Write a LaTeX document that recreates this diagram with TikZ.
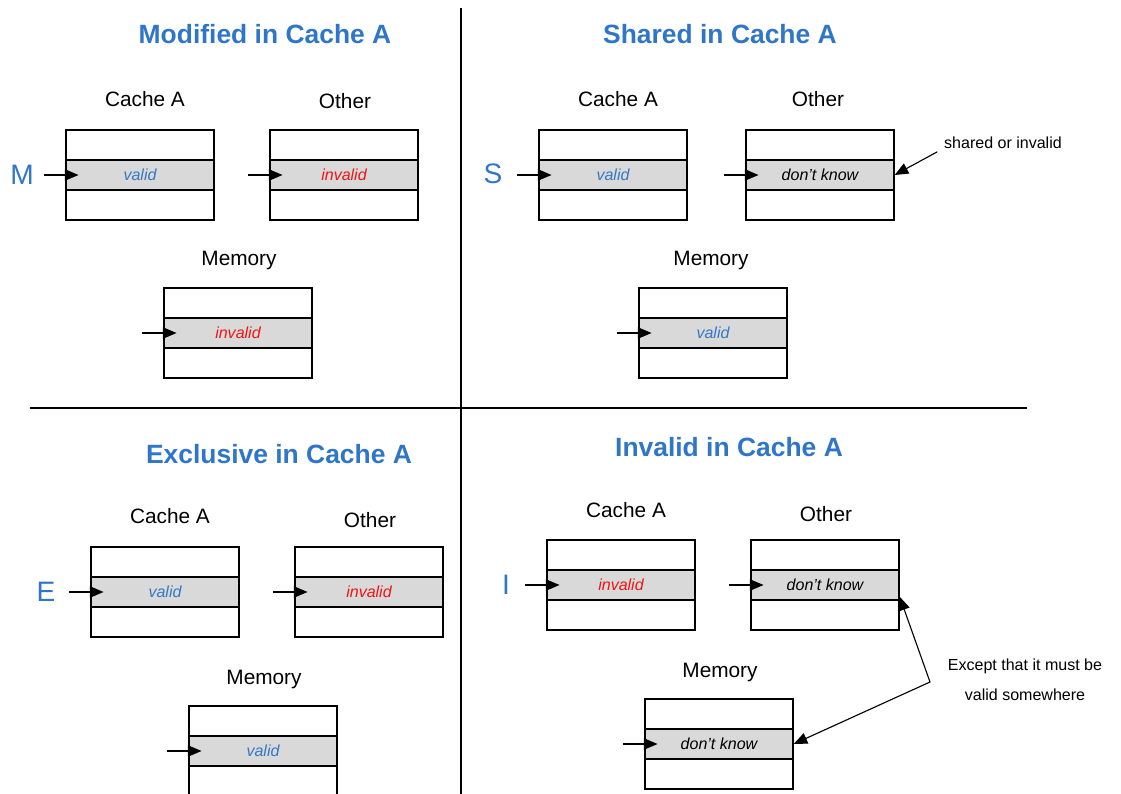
\documentclass[tikz,border=0pt]{standalone}
\usepackage{fontspec}
\setmainfont{Liberation Sans}
\usetikzlibrary{arrows.meta}
\definecolor{headblue}{RGB}{47,117,200}
\definecolor{okblue}{RGB}{52,120,200}
\definecolor{badred}{RGB}{240,20,20}
\definecolor{rowgrey}{RGB}{217,217,217}
\tikzset{
  cache/.style={draw, line width=0.9pt, minimum width=3.7cm, minimum height=2.25cm, inner sep=0pt},
  slot/.style={draw, fill=rowgrey, line width=0.9pt, minimum width=3.7cm, minimum height=0.75cm, inner sep=0pt, font=\fontsize{11.4}{13}\selectfont\itshape},
  quadhead/.style={text=headblue, font=\fontsize{18.8}{22}\selectfont\bfseries},
  boxname/.style={font=\fontsize{14.8}{17}\selectfont},
  statelbl/.style={text=headblue, font=\fontsize{20}{24}\selectfont},
  remark/.style={font=\fontsize{11.4}{21}\selectfont, align=center},
  ptr/.style={-{Triangle[length=0.34cm,width=0.28cm]}, line width=0.8pt},
  twoway/.style={{Triangle[length=0.34cm,width=0.28cm]}-{Triangle[length=0.34cm,width=0.28cm]}, line width=0.8pt},
}
\begin{document}
\begin{tikzpicture}[x=0.025cm, y=-0.025cm]
    \useasboundingbox (0,0) rectangle (1121,794);
    % quadrant dividers
    \draw[line width=1.8pt] (461,8) -- (461,794);
    \draw[line width=1.8pt] (30,408) -- (1027,408);
    % headings
    \node[quadhead] (hM) at (265,34) {Modified in Cache A};
    \node[quadhead] (hS) at (720,34) {Shared in Cache A};
    \node[quadhead] (hE) at (279,454) {Exclusive in Cache A};
    \node[quadhead] (hI) at (729,447) {Invalid in Cache A};
    % state letters
    \node[statelbl] (sM) at (22,175) {M};
    \node[statelbl] (sS) at (493,174) {S};
    \node[statelbl] (sE) at (46,592) {E};
    \node[statelbl] (sI) at (506,585) {I};
    % cache lines
    \foreach \n/\x/\y/\t/\c in {Ma/140/175/valid/okblue, Mo/344/175/invalid/badred, Mm/238/333/invalid/badred,
        Sa/613/175/valid/okblue, So/820/175/don’t know/black, Sm/713/333/valid/okblue,
        Ea/165/592/valid/okblue, Eo/369/592/invalid/badred, Em/263/751/valid/okblue,
        Ia/621/585/invalid/badred, Io/825/585/don’t know/black, Im/719/744/don’t know/black}
    {
        \node[cache] (\n) at (\x,\y) {};
        \node[slot, text=\c] (\n-row) at (\n.center) {\t};
    }
    \foreach \n/\x/\y/\t in {Ma/145/99/Cache A, Mo/345/101/Other, Mm/239/261/Memory,
        Sa/618/99/Cache A, So/818/99/Other, Sm/711/261/Memory,
        Ea/170/516/Cache A, Eo/370/520/Other, Em/264/679/Memory,
        Ia/626/510/Cache A, Io/826/514/Other, Im/720/672/Memory}
        \node[boxname] (\n-name) at (\x,\y) {\t};
    \foreach \n in {Ma,Mo,Mm,Sa,So,Sm,Ea,Eo,Em,Ia,Io,Im}
        \draw[ptr] ([xshift=-0.525cm]\n-row.west) -- ([xshift=0.33cm]\n-row.west);
    % remarks
    \node[remark] (shnote) at (1003,143) {shared or invalid};
    \draw[ptr] ([shift={(-0.05cm,0.05cm)}]shnote.south west) -- (So-row.east);
    \node[remark] (exnote) at (1025,680) {Except that it must be\\valid somewhere};
    \coordinate (bend) at (930,682);
    \draw[twoway] ([yshift=0.1cm]Io-row.south east) -- (bend) -- (Im-row.east);
\end{tikzpicture}
\end{document}
